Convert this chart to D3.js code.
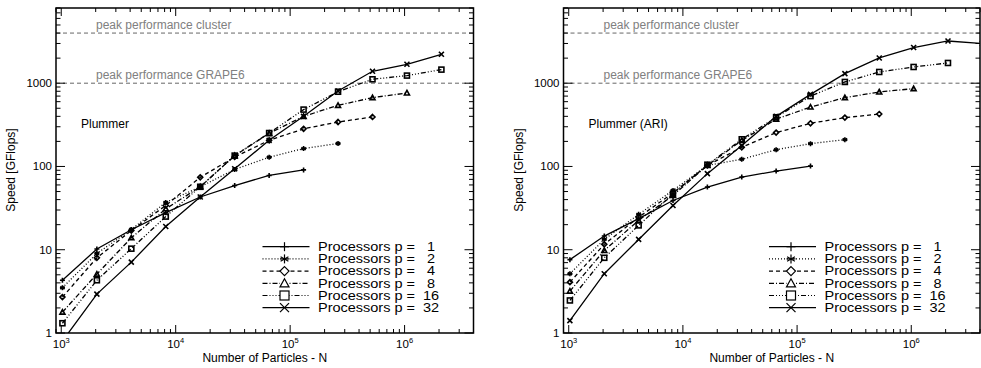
<!DOCTYPE html>
<html><head><meta charset="utf-8">
<script src="https://cdn.jsdelivr.net/npm/d3@7"></script>
<style>
body{margin:0;background:#fff;}
svg{display:block;font-family:"Liberation Sans",Arial,Helvetica,sans-serif;}
.leg{white-space:pre;}
</style>
</head><body>
<svg id="c" width="981" height="368"></svg>
<script>
// ---------- data ----------
const nParticles = [1024, 2048, 4096, 8192, 16384, 32768, 65536, 131072, 262144, 524288, 1048576, 2097152, 4194304];
const processors = [1, 2, 4, 8, 16, 32];

// Left panel: Plummer
const plummerP1  = [4.3, 10.2, 17.4, 27.9, 43, 59, 78, 91];
const plummerP2  = [3.5, 9.0, 17.5, 37, 57, 92, 129, 164, 189];
const plummerP4  = [2.7, 8.0, 17, 34, 74, 130, 206, 283, 342, 393];
const plummerP8  = [1.78, 5.1, 13.9, 31, 57, 135, 250, 400, 542, 671, 763];
const plummerP16 = [1.31, 4.3, 10.3, 25, 57, 135, 252, 482, 790, 1114, 1234, 1456];
const plummerP32 = [0.8, 2.93, 7.1, 19, 43, 94, 206, 400, 806, 1390, 1687, 2225];

// Right panel: Plummer (ARI)
const ariP1  = [7.6, 14.6, 23.6, 39, 56.5, 74.6, 88, 101];
const ariP2  = [5.15, 13.3, 26.6, 51.6, 103, 122, 159, 188, 210];
const ariP4  = [4.08, 11.6, 24.6, 48, 103, 170, 255, 330, 386, 426];
const ariP8  = [3.18, 9.8, 22.5, 45, 103, 205, 370, 517, 671, 784, 861];
const ariP16 = [2.46, 8.0, 19.6, 47, 105, 212, 390, 700, 1035, 1364, 1566, 1750];
const ariP32 = [1.41, 5.15, 13.3, 34, 82, 178, 400, 735, 1304, 2010, 2680, 3214, 3000];

const peakValues = [4000, 1000];
const peakLabels = ["peak performance cluster", "peak performance GRAPE6"];
const panelTitles = ["Plummer", "Plummer (ARI)"];
const yTickValues = [1, 10, 100, 1000];
const yTickLabels = ["1", "10", "100", "1000"];
const xTickExponents = [3, 4, 5, 6];
const xTitle = "Number of Particles - N";
const yTitle = "Speed [GFlops]";
const legendPrefix = "Processors p =";

const seriesStyles = [
  {dash: null, marker: "plus"},
  {dash: "1,2", marker: "asterisk"},
  {dash: "4,3", marker: "diamond"},
  {dash: "5,2,1,2", marker: "triangle"},
  {dash: "5,2,1,2,1,2,1,2", marker: "square"},
  {dash: null, marker: "x"}
];

const panels = [
  {left: 56, right: 473.5, title: panelTitles[0], series: [plummerP1, plummerP2, plummerP4, plummerP8, plummerP16, plummerP32]},
  {left: 563.5, right: 980, title: panelTitles[1], series: [ariP1, ariP2, ariP4, ariP8, ariP16, ariP32]}
];

const svg = d3.select("#c");
const plotTop = 8, plotBottom = 333;

function marker(g, type, x, y, s, sw) {
  const h = s / 2;
  const line = (x1, y1, x2, y2) => g.append("line").attr("x1", x1).attr("y1", y1).attr("x2", x2).attr("y2", y2)
      .attr("stroke", "#000").attr("stroke-width", sw);
  if (type === "plus") { line(x - h, y, x + h, y); line(x, y - h, x, y + h); }
  else if (type === "x") { line(x - h, y - h, x + h, y + h); line(x - h, y + h, x + h, y - h); }
  else if (type === "asterisk") {
    line(x, y - h, x, y + h);
    const dx = h * Math.cos(Math.PI / 6), dy = h * Math.sin(Math.PI / 6);
    line(x - dx, y - dy, x + dx, y + dy); line(x - dx, y + dy, x + dx, y - dy);
    line(x - h, y, x + h, y);
  }
  else if (type === "diamond") {
    g.append("path").attr("d", `M${x},${y - h}L${x + h},${y}L${x},${y + h}L${x - h},${y}Z`)
      .attr("stroke", "#000").attr("stroke-width", sw).attr("fill", "none");
  }
  else if (type === "triangle") {
    g.append("path").attr("d", `M${x},${y - h}L${x + h},${y + h * 0.8}L${x - h},${y + h * 0.8}Z`)
      .attr("stroke", "#000").attr("stroke-width", sw).attr("fill", "none");
  }
  else if (type === "square") {
    g.append("rect").attr("x", x - h).attr("y", y - h).attr("width", s).attr("height", s)
      .attr("stroke", "#000").attr("stroke-width", sw).attr("fill", "none");
  }
}

panels.forEach((p, pi) => {
  const x = d3.scaleLog().domain([900, 4e6]).range([p.left, p.right]);
  const y = d3.scaleLog().domain([1, 8000]).range([plotBottom, plotTop]);
  const g = svg.append("g");
  const clipId = "clip" + pi;
  svg.append("clipPath").attr("id", clipId).append("rect")
    .attr("x", p.left).attr("y", plotTop).attr("width", p.right - p.left).attr("height", plotBottom - plotTop);

  // peak lines
  peakValues.forEach((v, i) => {
    g.append("line").attr("x1", p.left).attr("x2", p.right).attr("y1", y(v)).attr("y2", y(v))
      .attr("stroke", "#555").attr("stroke-width", 0.9).attr("stroke-dasharray", "4,3");
    g.append("text").attr("x", p.left + 40).attr("y", y(v) - 4).attr("font-size", 12)
      .attr("fill", "#808080").text(peakLabels[i]);
  });

  g.append("text").attr("x", p.left + 25).attr("y", 127.5).attr("font-size", 12).attr("fill", "#000").text(p.title);

  // series
  const sg = g.append("g").attr("clip-path", `url(#${clipId})`);
  p.series.forEach((vals, si) => {
    const pts = vals.map((v, i) => [nParticles[i], v]);
    const path = sg.append("path").datum(pts)
      .attr("d", d3.line().x(d => x(d[0])).y(d => y(d[1])))
      .attr("fill", "none").attr("stroke", "#000").attr("stroke-width", 1.3);
    if (seriesStyles[si].dash) path.attr("stroke-dasharray", seriesStyles[si].dash);
    pts.forEach(d => marker(sg, seriesStyles[si].marker, x(d[0]), y(d[1]), 5, 1.6));
  });

  // axes frame
  const ax = g.append("g");
  ax.append("rect").attr("x", p.left).attr("y", plotTop).attr("width", p.right - p.left).attr("height", plotBottom - plotTop)
    .attr("fill", "none").attr("stroke", "#000").attr("stroke-width", 1.5);

  // x ticks
  const xMinor = [];
  for (let e = 2; e <= 6; e++) for (let k = 1; k <= 9; k++) {
    const v = k * Math.pow(10, e);
    if (v >= 900 && v <= 4e6) xMinor.push({v, major: k === 1});
  }
  xMinor.forEach(t => {
    const L = t.major ? 8 : 4;
    const xx = x(t.v);
    ax.append("line").attr("x1", xx).attr("x2", xx).attr("y1", plotBottom).attr("y2", plotBottom - L).attr("stroke", "#000").attr("stroke-width", 1);
    ax.append("line").attr("x1", xx).attr("x2", xx).attr("y1", plotTop).attr("y2", plotTop + L).attr("stroke", "#000").attr("stroke-width", 1);
  });
  xTickExponents.forEach(e => {
    const t = ax.append("text").attr("x", x(Math.pow(10, e))).attr("y", 348).attr("text-anchor", "middle")
      .attr("font-size", 11.5);
    t.append("tspan").text("10");
    t.append("tspan").attr("dy", -5).attr("font-size", 7.5).text(String(e));
  });

  // y ticks
  const yMinor = [];
  for (let e = 0; e <= 3; e++) for (let k = 1; k <= 9; k++) {
    const v = k * Math.pow(10, e);
    if (v >= 1 && v <= 8000) yMinor.push({v, major: k === 1});
  }
  yMinor.forEach(t => {
    const L = t.major ? 9 : 4.5;
    const yy = y(t.v);
    ax.append("line").attr("x1", p.left).attr("x2", p.left + L).attr("y1", yy).attr("y2", yy).attr("stroke", "#000").attr("stroke-width", 1);
    ax.append("line").attr("x1", p.right).attr("x2", p.right - L).attr("y1", yy).attr("y2", yy).attr("stroke", "#000").attr("stroke-width", 1);
  });
  yTickValues.forEach((v, i) => {
    ax.append("text").attr("x", p.left - 4).attr("y", y(v) + 4).attr("text-anchor", "end")
      .attr("font-size", 11.5).text(yTickLabels[i]);
  });

  // titles
  g.append("text").attr("x", (p.left + p.right) / 2).attr("y", 362).attr("text-anchor", "middle")
    .attr("font-size", 12).text(xTitle);
  g.append("text").attr("transform", `translate(${p.left - 41},170) rotate(-90)`).attr("text-anchor", "middle")
    .attr("font-size", 12).text(yTitle);

  // legend
  const lx0 = p.right - 211, lx1 = p.right - 164, lm = p.right - 189;
  const tx = p.right - 155.5;
  processors.forEach((pp, i) => {
    const ry = 246.7 + i * 12.2;
    const l = g.append("line").attr("x1", lx0).attr("x2", lx1).attr("y1", ry).attr("y2", ry)
      .attr("stroke", "#000").attr("stroke-width", 1.2);
    if (seriesStyles[i].dash) l.attr("stroke-dasharray", seriesStyles[i].dash);
    const bg = g.append("g");
    const mk = seriesStyles[i].marker;
    if (mk === "diamond" || mk === "triangle" || mk === "square") {
      bg.append("rect").attr("x", lm - 4.5).attr("y", ry - 4.5).attr("width", 9).attr("height", 9).attr("fill", "#fff");
    }
    marker(bg, mk, lm, ry, 9, 1.2);
    g.append("text").attr("class", "leg")
      .attr("transform", `translate(${tx},${ry + 4.3}) scale(1,0.88)`)
      .attr("font-size", 14.5)
      .text(`${legendPrefix} ${String(pp).padStart(3, " ")}`);
  });
});
</script>
</body></html>
